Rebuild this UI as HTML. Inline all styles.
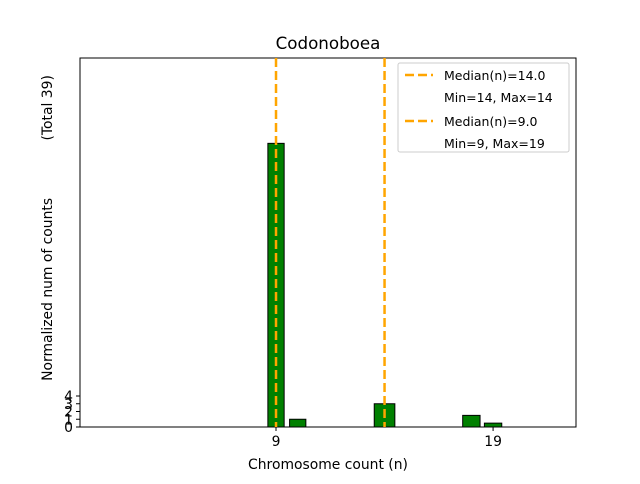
<!DOCTYPE html>
<html><head><meta charset="utf-8"><style>
body{margin:0;background:#fff;font-family:"DejaVu Sans","Liberation Sans",sans-serif;}
text{font-family:"DejaVu Sans","Liberation Sans",sans-serif;}
</style></head><body>
<svg id="c" width="640" height="480" xmlns="http://www.w3.org/2000/svg">
<rect width="640" height="480" fill="#fff"/>
<text x="328" y="49" font-size="16.7" text-anchor="middle">Codonoboea</text>
<g id="plot"></g>
<text x="328" y="469" font-size="13.9" text-anchor="middle">Chromosome count (n)</text>
<text transform="translate(52,228) rotate(-90)" font-size="13.9" text-anchor="middle" style="white-space:pre" xml:space="preserve">Normalized num of counts             (Total 39)</text>
<g>
<rect x="398" y="63" width="171" height="89" fill="#fff" stroke="#ccc" rx="2"/>
<line x1="405" y1="75" x2="433" y2="75" stroke="#ffa500" stroke-width="2.5" stroke-dasharray="9,4"/>
<text x="444" y="80" font-size="12.5">Median(n)=14.0</text>
<text x="444" y="102" font-size="12.5">Min=14, Max=14</text>
<line x1="405" y1="121" x2="433" y2="121" stroke="#ffa500" stroke-width="2.5" stroke-dasharray="9,4"/>
<text x="444" y="126" font-size="12.5">Median(n)=9.0</text>
<text x="444" y="148" font-size="12.5">Min=9, Max=19</text>
</g>
</svg>
<script>
const categories=[9,10,14,18,19];
const values=[36.6,1.0,3.0,1.5,0.5];
const widths=[0.75,0.75,0.95,0.8,0.8];
const medians=[9,14];
const yTicks=[0,1,2,3,4];
const xTicks=[9,19];
const L=80,R=576,T=58,B=427;
const xs=v=>L+(v+0.03)*(R-L)/22.85;
const ys=v=>B-v*7.75;
const NS="http://www.w3.org/2000/svg";
const g=document.getElementById('plot');
function mk(t,a){const e=document.createElementNS(NS,t);for(const k in a)e.setAttribute(k,a[k]);g.appendChild(e);return e;}
const frame=mk('rect',{x:L,y:T,width:R-L,height:B-T,fill:'none',stroke:'#000','stroke-width':1});


categories.forEach((c,i)=>{
  const w=widths[i]*(R-L)/22.85;
  const b=mk('rect',{x:xs(c)-w/2,y:ys(values[i]),width:w,height:B-ys(values[i]),fill:'#008000',stroke:'#000','stroke-width':1});
  
  
});
medians.forEach(m=>{
  const l=mk('line',{x1:xs(m),x2:xs(m),y1:T,y2:B,stroke:'#ffa500','stroke-width':2.5,'stroke-dasharray':'9,4'});
  
  
});
yTicks.forEach(t=>{
  mk('line',{x1:L-4,x2:L,y1:ys(t),y2:ys(t),stroke:'#000'});
  const tx=mk('text',{x:L-7,y:ys(t)+5,'font-size':13.9,'text-anchor':'end'});
  tx.textContent=t;
  
  
});
xTicks.forEach(t=>{
  mk('line',{x1:xs(t),x2:xs(t),y1:B,y2:B+4,stroke:'#000'});
  const tx=mk('text',{x:xs(t),y:B+19,'font-size':13.9,'text-anchor':'middle'});
  tx.textContent=t;
  
  
});
</script>
</body></html>
